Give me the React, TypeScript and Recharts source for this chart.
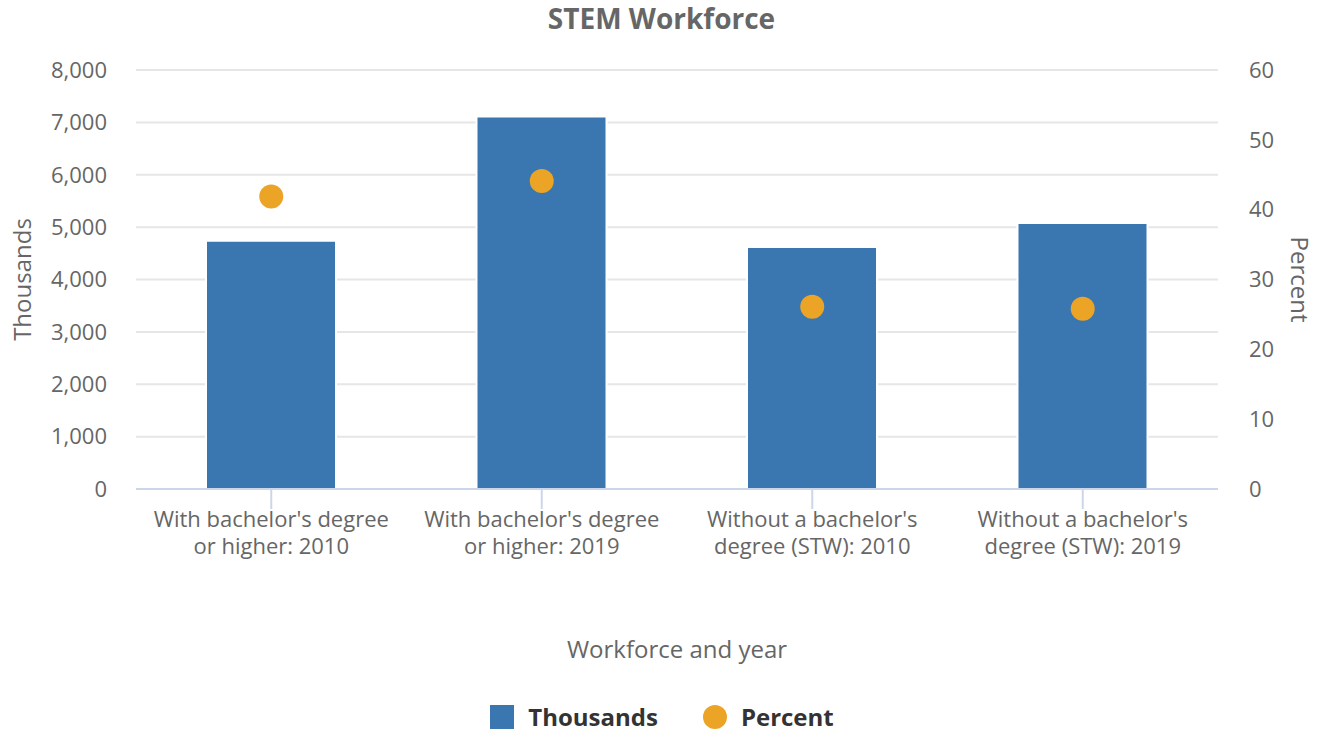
import { Bar, CartesianGrid, ComposedChart, Legend, Scatter, XAxis, YAxis } from 'recharts';

const CATEGORIES = [
  "With bachelor's degree or higher: 2010",
  "With bachelor's degree or higher: 2019",
  "Without a bachelor's degree (STW): 2010",
  "Without a bachelor's degree (STW): 2019",
];
const THOUSANDS = [4740, 7110, 4620, 5080];
const PERCENT = [41.9, 44.1, 26.1, 25.8];
const LEFT_TICKS = [0, 1000, 2000, 3000, 4000, 5000, 6000, 7000, 8000];
const RIGHT_TICKS = [0, 10, 20, 30, 40, 50, 60];

const FONT = '"Open Sans", sans-serif';
const BLUE = '#3a77b0';
const ORANGE = '#eca426';
const AXIS = '#ccd6eb';

const rows = CATEGORIES.map((c, i) => ({ category: c, thousands: THOUSANDS[i], percent: PERCENT[i] }));

// greedy word wrap, measured with the same font the tick uses
function wrap(label: string, maxWidth: number, font: string) {
  const ctx = document.createElement('canvas').getContext('2d')!;
  ctx.font = font;
  const lines: string[] = [];
  let cur = '';
  for (const w of label.split(' ')) {
    const next = cur ? cur + ' ' + w : w;
    if (cur && ctx.measureText(next).width > maxWidth) {
      lines.push(cur);
      cur = w;
    } else {
      cur = next;
    }
  }
  if (cur) lines.push(cur);
  return lines;
}

function CategoryTick({ x, y, payload }: any) {
  const lines = wrap(String(payload.value), 245, '22px "Open Sans"');
  return (
    <text x={x} y={y} textAnchor="middle" style={{ fontFamily: FONT, fontSize: 22, fill: '#666666' }}>
      {lines.map((l, i) => (
        <tspan key={i} x={x} dy={i === 0 ? 16 : 27}>
          {l}
        </tspan>
      ))}
    </text>
  );
}

function Dot(props: any) {
  const { cx, cy } = props;
  if (cx == null || cy == null) return null;
  return <circle cx={cx} cy={cy} r={12} fill={ORANGE} />;
}

function LegendContent() {
  const item = {
    display: 'flex',
    alignItems: 'center',
    fontFamily: FONT,
    fontSize: 24,
    lineHeight: '24px',
    fontWeight: 700,
    color: '#333333',
  };
  return (
    <div style={{ boxSizing: 'border-box', height: 40, paddingTop: 11, display: 'flex', justifyContent: 'center', alignItems: 'center' }}>
      <div style={{ ...item, marginRight: 45 }}>
        <span style={{ width: 24, height: 24, background: BLUE, marginRight: 14 }} />
        Thousands
      </div>
      <div style={item}>
        <span style={{ width: 24, height: 24, borderRadius: 12, background: ORANGE, marginRight: 14 }} />
        Percent
      </div>
    </div>
  );
}

export default function App() {
  return (
    <div style={{ position: 'absolute', left: 0, top: 0, width: 1323, height: 731, background: '#fff' }}>
      <div
        style={{
          position: 'absolute',
          left: 0,
          width: 1323,
          top: 4,
          textAlign: 'center',
          fontFamily: FONT,
          fontSize: 28,
          lineHeight: '28px',
          fontWeight: 700,
          color: '#666666',
          zIndex: 2,
        }}
      >
        STEM Workforce
      </div>
      <ComposedChart width={1323} height={731} data={rows} margin={{ top: 70, right: 15, bottom: 0, left: 16 }}>
        <CartesianGrid yAxisId="left" vertical={false} stroke="#e6e6e6" strokeWidth={2} />
        <XAxis
          dataKey="category"
          height={202}
          interval={0}
          tick={<CategoryTick />}
          tickSize={20}
          tickMargin={2}
          axisLine={{ stroke: AXIS, strokeWidth: 2 }}
          tickLine={{ stroke: AXIS, strokeWidth: 2 }}
          label={{
            value: 'Workforce and year',
            position: 'insideBottom',
            offset: 33,
            style: { fontFamily: FONT, fontSize: 24, fill: '#666666' },
          }}
        />
        <YAxis
          yAxisId="left"
          width={120}
          domain={[0, 8000]}
          ticks={LEFT_TICKS}
          tickFormatter={(v: number) => v.toLocaleString('en-US')}
          axisLine={false}
          tickLine={false}
          tickSize={0}
          tickMargin={29}
          tick={{ fontFamily: FONT, fontSize: 22, fill: '#666666' }}
          label={{
            value: 'Thousands',
            angle: -90,
            position: 'insideLeft',
            offset: 6,
            style: { textAnchor: 'middle', fontFamily: FONT, fontSize: 24, fill: '#666666' },
          }}
        />
        <YAxis
          yAxisId="right"
          orientation="right"
          width={90}
          domain={[0, 60]}
          ticks={RIGHT_TICKS}
          axisLine={false}
          tickLine={false}
          tickSize={0}
          tickMargin={31}
          tick={{ fontFamily: FONT, fontSize: 22, fill: '#666666', textAnchor: 'start' }}
          label={{
            value: 'Percent',
            angle: 90,
            position: 'insideRight',
            offset: 8,
            style: { textAnchor: 'middle', fontFamily: FONT, fontSize: 24, fill: '#666666' },
          }}
        />
        <Legend verticalAlign="bottom" content={<LegendContent />} />
        <Bar
          yAxisId="left"
          dataKey="thousands"
          name="Thousands"
          fill={BLUE}
          stroke="#ffffff"
          strokeWidth={2}
          barSize={130}
          isAnimationActive={false}
        />
        <Scatter
          yAxisId="right"
          dataKey="percent"
          name="Percent"
          fill={ORANGE}
          shape={<Dot />}
          isAnimationActive={false}
        />
      </ComposedChart>
    </div>
  );
}
